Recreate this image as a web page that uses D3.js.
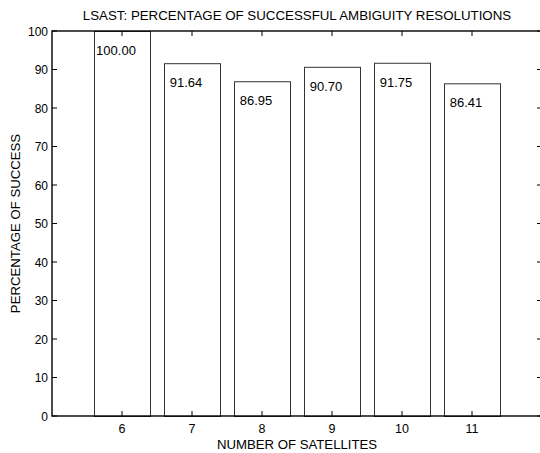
<!DOCTYPE html>
<html>
<head>
<meta charset="utf-8">
<script src="https://cdn.jsdelivr.net/npm/d3@7"></script>
<style>
  body { margin: 0; background: #fff; }
  svg { display: block; font-family: "Liberation Sans", Arial, sans-serif; }
</style>
</head>
<body>
<svg id="chart" width="540" height="453"></svg>
<script>
const satellites = [6, 7, 8, 9, 10, 11];
const success = [100.00, 91.64, 86.95, 90.70, 91.75, 86.41];
const xTicks = [6, 7, 8, 9, 10, 11];
const yTicks = [0, 10, 20, 30, 40, 50, 60, 70, 80, 90, 100];

const svg = d3.select("#chart");

// plot box (right edge falls just outside the picture, like the original crop)
const plotL = 52, plotR = 542, plotT = 31, plotB = 416;

const x = d3.scaleLinear().domain([5, 12]).range([plotL, plotR]);
const y = d3.scaleLinear().domain([0, 100]).range([plotB, plotT]);
const barW = 0.8;
const fmt = d3.format(".2f");

// bars
svg.selectAll("rect.bar")
  .data(satellites)
  .enter()
  .append("rect")
  .attr("class", "bar")
  .attr("x", d => x(d - barW / 2) + 0.5)
  .attr("y", (d, i) => y(success[i]) + 0.5)
  .attr("width", x(barW) - x(0))
  .attr("height", (d, i) => y(0) - y(success[i]))
  .attr("fill", "#fff")
  .attr("stroke", "#333")
  .attr("stroke-width", 1);

// value labels inside the bars (sprintf-style padding to width 6)
svg.selectAll("text.val")
  .data(satellites)
  .enter()
  .append("text")
  .attr("class", "val")
  .attr("x", d => x(d - 0.37))
  .attr("y", (d, i) => y(success[i]) + 24)
  .attr("font-size", "13px")
  .attr("fill", "#000")
  .style("white-space", "pre")
  .text((d, i) => fmt(success[i]).padStart(6, " "));

// frame
const g = svg.append("g");
g.append("rect")
  .attr("x", plotL)
  .attr("y", plotT)
  .attr("width", plotR - plotL)
  .attr("height", plotB - plotT)
  .attr("fill", "none")
  .attr("stroke", "#000")
  .attr("stroke-width", 1.4);

const tickLen = 5;

// x ticks bottom and top (inward)
xTicks.forEach(t => {
  g.append("line")
    .attr("x1", x(t)).attr("x2", x(t))
    .attr("y1", plotB).attr("y2", plotB - tickLen)
    .attr("stroke", "#000");
  g.append("line")
    .attr("x1", x(t)).attr("x2", x(t))
    .attr("y1", plotT).attr("y2", plotT + tickLen)
    .attr("stroke", "#000");
  g.append("text")
    .attr("x", x(t))
    .attr("y", plotB + 17)
    .attr("text-anchor", "middle")
    .attr("font-size", "12.5px")
    .text(t);
});

// y ticks left and right (inward)
yTicks.forEach(t => {
  g.append("line")
    .attr("x1", plotL).attr("x2", plotL + tickLen)
    .attr("y1", y(t)).attr("y2", y(t))
    .attr("stroke", "#000");
  g.append("line")
    .attr("x1", plotR).attr("x2", plotR - tickLen)
    .attr("y1", y(t)).attr("y2", y(t))
    .attr("stroke", "#000");
  g.append("text")
    .attr("x", plotL - 4)
    .attr("y", y(t) + 4.5)
    .attr("text-anchor", "end")
    .attr("font-size", "12px")
    .text(t);
});

// titles
svg.append("text")
  .attr("x", (plotL + plotR) / 2)
  .attr("y", 20)
  .attr("text-anchor", "middle")
  .attr("font-size", "13.3px")
  .text("LSAST: PERCENTAGE OF SUCCESSFUL AMBIGUITY RESOLUTIONS");

svg.append("text")
  .attr("x", (plotL + plotR) / 2)
  .attr("y", 449)
  .attr("text-anchor", "middle")
  .attr("font-size", "13.2px")
  .text("NUMBER OF SATELLITES");

svg.append("text")
  .attr("transform", `translate(20, ${(plotT + plotB) / 2}) rotate(-90)`)
  .attr("text-anchor", "middle")
  .attr("font-size", "13.2px")
  .text("PERCENTAGE OF SUCCESS");
</script>
</body>
</html>
